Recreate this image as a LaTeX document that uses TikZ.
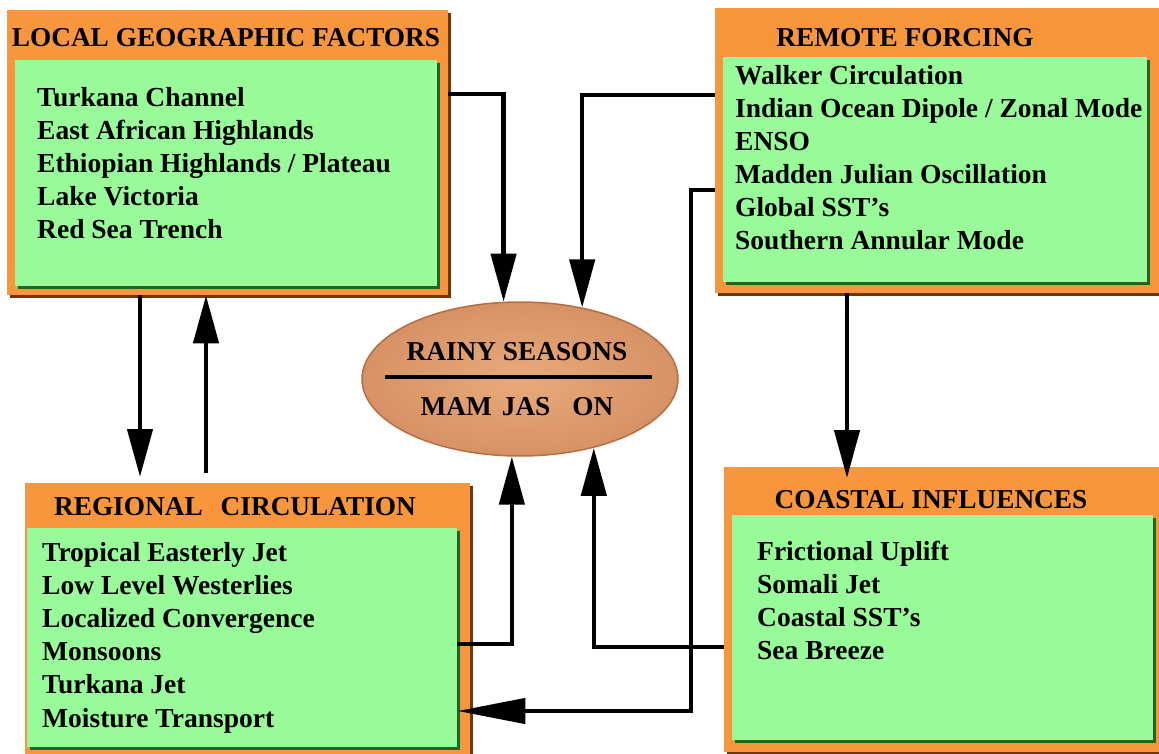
\documentclass[tikz,border=0pt]{standalone}
\usepackage{fontspec}
\setmainfont{Liberation Serif}
\usetikzlibrary{arrows.meta, shapes.geometric, shadows, calc}
\definecolor{boxorange}{RGB}{247,150,60}
\definecolor{boxedge}{RGB}{110,55,10}
\definecolor{boxgreen}{RGB}{153,250,153}
\definecolor{greenedge}{RGB}{35,100,35}
\definecolor{rainlight}{RGB}{232,170,124}
\definecolor{raindark}{RGB}{214,146,100}
\definecolor{rainrim}{RGB}{180,110,66}
\tikzset{
  frame/.style={fill=boxorange, anchor=north west, inner sep=0pt,
    drop shadow={shadow xshift=3pt, shadow yshift=-3pt, fill=boxedge, opacity=1}},
  panel/.style={fill=boxgreen, anchor=north west, inner sep=0pt,
    drop shadow={shadow xshift=3pt, shadow yshift=-3pt, fill=greenedge, opacity=1}},
  heading/.style={font=\fontsize{27.3}{33}\selectfont\bfseries, anchor=base, inner sep=0pt},
  item/.style={font=\fontsize{27.5}{33}\selectfont\bfseries, anchor=base west, inner sep=0pt},
  arr/.style={-{Triangle[length=48pt, width=25pt]}, line width=4.5pt},
  arrl/.style={-{Triangle[length=68pt, width=25pt]}, line width=4.5pt},
}

\begin{document}
\begin{tikzpicture}[x=1pt, y=-1pt]
  \useasboundingbox (0,0) rectangle (1159,754);
  % the four boxes
  \node[frame, minimum width=441pt, minimum height=285pt] (lgf) at (7,10) {};
  \node[panel, minimum width=422pt, minimum height=226pt] (lgfin) at (15,60) {};
  \node[frame, minimum width=450pt, minimum height=285pt] (rf) at (715,8) {};
  \node[panel, minimum width=424pt, minimum height=225pt] (rfin) at (723,57) {};
  \node[frame, minimum width=445pt, minimum height=275pt] (rc) at (25,483) {};
  \node[panel, minimum width=430pt, minimum height=219pt] (rcin) at (27,528) {};
  \node[frame, minimum width=440pt, minimum height=285pt] (ci) at (724,467) {};
  \node[panel, minimum width=421pt, minimum height=225pt] (ciin) at (732,515) {};

  \node[heading] (lgft) at (226,47) {LOCAL GEOGRAPHIC FACTORS};
  \node[heading] (rft) at (905,47) {REMOTE FORCING};
  \node[heading] (rct) at (235,515) {REGIONAL\hspace{18pt}CIRCULATION};
  \node[heading] (cit) at (931,508) {COASTAL INFLUENCES};

  \foreach \t [count=\i from 0] in {Turkana Channel, East African Highlands,
      Ethiopian Highlands / Plateau, Lake Victoria, Red Sea Trench}
    \node[item] (lgf-\i) at (37,107+33*\i) {\t};
  \foreach \t [count=\i from 0] in {Walker Circulation,
      Indian Ocean Dipole / Zonal Mode, ENSO, Madden Julian Oscillation,
      Global SST’s, Southern Annular Mode}
    \node[item] (rf-\i) at (735,85+33*\i) {\t};
  \foreach \t [count=\i from 0] in {Tropical Easterly Jet, Low Level Westerlies,
      Localized Convergence, Monsoons, Turkana Jet, Moisture Transport}
    \node[item] (rc-\i) at (42,561+33.2*\i) {\t};
  \foreach \t [count=\i from 0] in {Frictional Uplift, Somali Jet,
      Coastal SST’s, Sea Breeze}
    \node[item] (ci-\i) at (757,560+33.3*\i) {\t};

  % rainy seasons
  \node[ellipse, minimum width=316pt, minimum height=154pt, inner sep=0pt,
    inner color=rainlight, outer color=raindark, draw=rainrim, line width=1.5pt] (rain) at (520,379) {};
  \node[heading] (rs) at (517,360) {RAINY SEASONS};
  \node[heading] (mjo) at (517,415) {MAM\hspace{10pt}JAS\hspace{22pt}ON};
  \draw[line width=4pt] (385,377) -- (652,377);

  % links
  \draw[arr] (lgf.east |- 0,94) -| (rain.102);
  \draw[arr] (rf.west |- 0,95) -| (rain.49);
  \draw[arrl] (rf.west |- 0,190) -- ++(-24,0) |- (rcin.east |- 0,711);
  \draw[arr, shorten >=6pt] (lgf.south -| 140,0) -- (rc.north -| 140,0);
  \draw[arr, shorten <=10pt] (rc.north -| 206,0) -- (lgf.south -| 206,0);
  \draw[arr, shorten >=-11pt] (rf.south -| 847,0) -- (ci.north -| 847,0);
  \draw[arr] (rcin.east |- 0,644) -| (rain.264);
  \draw[arr] (ci.west |- 0,647) -| (rain.317);
\end{tikzpicture}
\end{document}
